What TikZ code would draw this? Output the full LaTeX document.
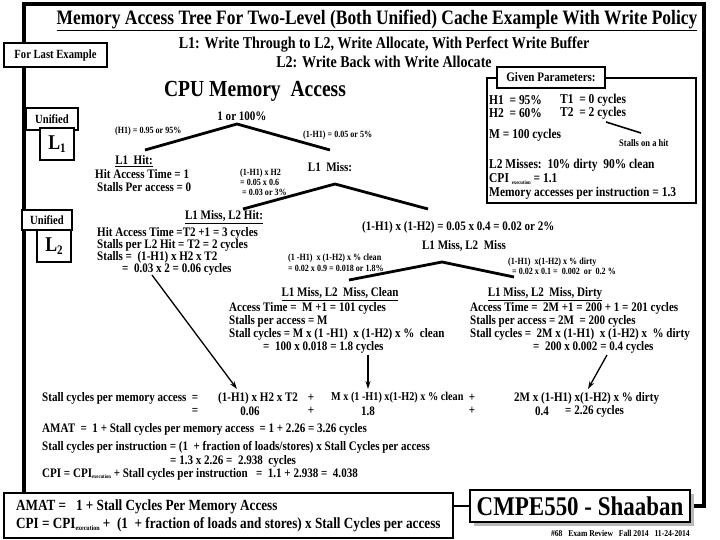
\documentclass[tikz,border=0pt]{standalone}
\usepackage{fontspec}
\setmainfont{Liberation Serif}[FakeStretch=0.85]
\usetikzlibrary{arrows.meta}
\tikzset{
  txt/.style={font=\bfseries\fontsize{13}{14}\selectfont, inner sep=0pt, anchor=west},
  ctxt/.style={font=\bfseries\fontsize{13}{14}\selectfont, inner sep=0pt},
  small/.style={font=\bfseries\fontsize{9.5}{11}\selectfont, inner sep=0pt, anchor=west},
  giv/.style={font=\bfseries\fontsize{13.5}{14}\selectfont, inner sep=0pt, anchor=west},
  box/.style={draw, line width=1.6pt, fill=white, inner sep=0pt},
  branch/.style={line width=2.8pt},
  frame/.style={line width=3.5pt},
  arr/.style={line width=1.3pt, -{Stealth[length=8pt,width=5pt]}},
}
\newcommand{\exsub}[1]{\raisebox{-0.3ex}{\fontsize{#1}{#1}\selectfont execution}}
\begin{document}
\begin{tikzpicture}[x=1pt,y=-1pt]
\useasboundingbox (0,0) rectangle (720,540);
\coordinate (ftl) at (24,4);
\coordinate (ftr) at (704,4);
\path (3,492) coordinate (amatnw);
% frame
\draw[frame] (24,492) coordinate (fstart) -- (ftl) -- (ftr) -- (704,506) coordinate (fend) -- (690,506) coordinate (fend2);
% title
\node[font=\bfseries\fontsize{20.5}{22}\selectfont, inner sep=0pt] (title) at (377,20) {\underline{Memory Access Tree For Two-Level (Both Unified) Cache Example With Write Policy}};
\node[font=\bfseries\fontsize{16.5}{18}\selectfont, inner sep=0pt] (pol1) at (384,45) {L1: Write Through to L2, Write Allocate, With Perfect Write Buffer};
\node[font=\bfseries\fontsize{16.5}{18}\selectfont, inner sep=0pt] (pol2) at (384,62) {L2: Write Back with Write Allocate};
\node[box, minimum width=103, minimum height=24, font=\bfseries\fontsize{12.5}{13}\selectfont] (last) at (55.5,55) {For Last Example};
\node[font=\bfseries\fontsize{23}{24}\selectfont, inner sep=0pt] (cpu) at (255,91) {CPU Memory\ \ Access};
% given parameters
\node[box, minimum width=209, minimum height=125] (given) at (591.5,140.5) {};
\node[box, minimum width=108, minimum height=21, font=\bfseries\fontsize{13}{14}\selectfont] (gtab) at (551,77.5) {Given Parameters:};
\node[giv] (gh1) at (489,100) {H1\ \ = 95\%};
\node[giv] (gt1) at (560,100) {T1\ \ = 0 cycles};
\node[giv] (gh2) at (489,113) {H2\ \ = 60\%};
\node[giv] (gt2) at (560,113) {T2\ \ = 2 cycles};
\node[giv] (gm) at (489,135) {M = 100 cycles};
\node[small, font=\bfseries\fontsize{10}{11}\selectfont] (gsh) at (619,143) {Stalls on a hit};
\coordinate (sh1) at (606,122);
\coordinate (sh2) at (641,133);
\draw[line width=1.6pt] (sh1) -- (sh2);
\node[giv] (gl2) at (489,165) {L2 Misses:\ \ 10\% dirty\ \ 90\% clean};
\node[giv] (gcpi) at (489,179) {CPI \exsub{5.5} = 1.1};
\node[giv] (gmem) at (489,193) {Memory accesses per instruction = 1.3};
% left side boxes
\node[box, minimum width=52, minimum height=22, font=\bfseries\fontsize{12.5}{13}\selectfont] (uni1) at (52,119) {Unified};
\node[box, minimum width=34, minimum height=32, font=\bfseries\fontsize{21}{22}\selectfont] (l1box) at (57,144) {L\raisebox{-0.35ex}{\fontsize{13}{13}\selectfont 1}};
\node[box, minimum width=50, minimum height=20, font=\bfseries\fontsize{12.5}{13}\selectfont] (uni2) at (47,220) {Unified};
\node[box, minimum width=34, minimum height=32, font=\bfseries\fontsize{21}{22}\selectfont] (l2box) at (54,246) {L\raisebox{-0.35ex}{\fontsize{13}{13}\selectfont 2}};
% tree level 1
\node[ctxt] (root) at (242,116) {1 or 100\%};
\coordinate (a1) at (237,124);
\coordinate (l1) at (145,150);
\coordinate (r1) at (330,150);
\draw[branch] (l1) -- (a1) -- (r1);
\node[small] (ph1) at (115,131) {(H1) = 0.95 or 95\%};
\node[small] (pm1) at (303,135) {(1-H1) = 0.05 or 5\%};
\node[ctxt] (hit1) at (134,161) {\underline{L1\ \ Hit:}};
\node[txt] (hit1a) at (95,174) {Hit Access Time = 1};
\node[txt] (hit1b) at (97,187) {Stalls Per access = 0};
\node[ctxt] (miss1) at (330,167) {L1\ \ Miss:};
\node[small] (ph2a) at (240,173) {(1-H1) x H2};
\node[small] (ph2b) at (240,182) {= 0.05 x 0.6};
\node[small] (ph2c) at (242,192) {= 0.03 or 3\%};
% tree level 2
\coordinate (a2) at (335,184);
\coordinate (l2) at (243,209);
\coordinate (r2) at (428,209);
\draw[branch] (l2) -- (a2) -- (r2);
\node[ctxt] (hit2) at (224,217) {\underline{L1 Miss, L2 Hit:}};
\node[txt] (hit2a) at (97,233) {Hit Access Time =T2 +1 = 3 cycles};
\node[txt] (hit2b) at (97,245) {Stalls per L2 Hit = T2 = 2 cycles};
\node[txt] (hit2c) at (97,257) {Stalls =\ \ (1-H1) x H2 x T2};
\node[txt] (hit2d) at (122,269) {=\ \ 0.03 x 2 = 0.06 cycles};
\node[txt] (pm2) at (362,227) {(1-H1) x (1-H2) = 0.05 x 0.4 = 0.02 or 2\%};
\node[ctxt] (miss2) at (464,246) {L1 Miss, L2\ \ Miss};
% tree level 3
\coordinate (a3) at (442,262);
\coordinate (l3) at (349,280);
\coordinate (r3) at (514,277);
\draw[branch] (l3) -- (a3) -- (r3);
\node[small] (pca) at (288,258) {(1 -H1)\ \ x (1-H2) x \% clean};
\node[small] (pcb) at (288,268) {= 0.02 x 0.9 = 0.018 or 1.8\%};
\node[small] (pda) at (508,262) {(1-H1)\ \ x(1-H2) x \% dirty};
\node[small] (pdb) at (512,271) {= 0.02 x 0.1 =\ \ 0.002\ \ or\ \ 0.2 \%};
% clean block
\node[ctxt] (cl0) at (340,294) {\underline{L1 Miss, L2\ \ Miss, Clean}};
\node[txt] (cl1) at (229,308) {Access Time =\ \ M +1 = 101 cycles};
\node[txt] (cl2) at (229,321) {Stalls per access = M};
\node[txt] (cl3) at (229,334) {Stall cycles = M x (1 -H1)\ \ x (1-H2) x \%\ \ clean};
\node[txt] (cl4) at (263,347) {=\ \ 100 x 0.018 = 1.8 cycles};
% dirty block
\node[ctxt] (dr0) at (545,294) {\underline{L1 Miss, L2\ \ Miss, Dirty}};
\node[txt] (dr1) at (470,308) {Access Time =\ \ 2M +1 = 200 + 1 = 201 cycles};
\node[txt] (dr2) at (470,321) {Stalls per access = 2M\ \ = 200 cycles};
\node[txt] (dr3) at (470,334) {Stall cycles =\ \ 2M x (1-H1)\ \ x (1-H2) x\ \ \% dirty};
\node[txt] (dr4) at (533,347) {=\ \ 200 x 0.002 = 0.4 cycles};
% arrows
\coordinate (ar1s) at (152,275);
\coordinate (ar1e) at (237,389);
\coordinate (ar2s) at (368,355);
\coordinate (ar2e) at (368,389);
\coordinate (ar3s) at (607,355);
\coordinate (ar3e) at (588,389);
\draw[arr] (ar1s) -- (ar1e);
\draw[arr] (ar2s) -- (ar2e);
\draw[arr] (ar3s) -- (ar3e);
% summary rows
\node[txt] (s1a) at (42,398) {Stall cycles per memory access\ \ =};
\node[txt] (s1b) at (218,398) {(1-H1) x H2 x T2};
\node[ctxt] (s1p1) at (311,398) {+};
\node[txt, font=\bfseries\fontsize{12}{13}\selectfont] (s1c) at (331,398) {M x (1 -H1) x(1-H2) x \% clean};
\node[ctxt] (s1p2) at (472,398) {+};
\node[txt] (s1d) at (514,398) {2M x (1-H1) x(1-H2) x \% dirty};
\node[ctxt] (s2eq) at (195,411) {=};
\node[ctxt] (s2a) at (250,411) {0.06};
\node[ctxt] (s2p1) at (311,411) {+};
\node[ctxt] (s2b) at (368,411) {1.8};
\node[ctxt] (s2p2) at (472,411) {+};
\node[ctxt] (s2c) at (542,411) {0.4};
\node[txt] (s2d) at (565,411) {= 2.26 cycles};
\node[txt] (amatl) at (42,429) {AMAT\ \ =\ \ 1 + Stall cycles per memory access\ \ = 1 + 2.26 = 3.26 cycles};
\node[txt] (spi1) at (42,447) {Stall cycles per instruction = (1\ \ + fraction of loads/stores) x Stall Cycles per access};
\node[txt] (spi2) at (170,461) {= 1.3 x 2.26 =\ \ 2.938\ \ cycles};
\node[txt] (cpil) at (42,474) {CPI = CPI\exsub{5.5} + Stall cycles per instruction\ \ \ =\ \ 1.1 + 2.938 =\ \ 4.038};
% bottom boxes
\node[box, minimum width=449, minimum height=45, anchor=north west, align=left, font=\bfseries\fontsize{15.5}{18}\selectfont, inner xsep=6pt] (amat) at (amatnw) {AMAT =\ \ \ 1 + Stall Cycles Per Memory Access\\CPI = CPI\exsub{7} + \ (1\ \ + fraction of loads and stores) x Stall Cycles per access};
\fill[gray!55] (474,494) rectangle (694,526);
\node[box, minimum width=220, minimum height=32, font=\bfseries\fontsize{27}{28}\selectfont] (cmpe) at (580,506) {CMPE550 - Shaaban};
\draw[line width=2pt] (amat.east |- cmpe.west) -- (cmpe.west);
\node[font=\bfseries\fontsize{9}{10}\selectfont, inner sep=0pt, anchor=east] (foot) at (690,533) {\#68\ \ \ Exam Review\ \ \ Fall 2014\ \ \ 11-24-2014};
\end{tikzpicture}
\end{document}
